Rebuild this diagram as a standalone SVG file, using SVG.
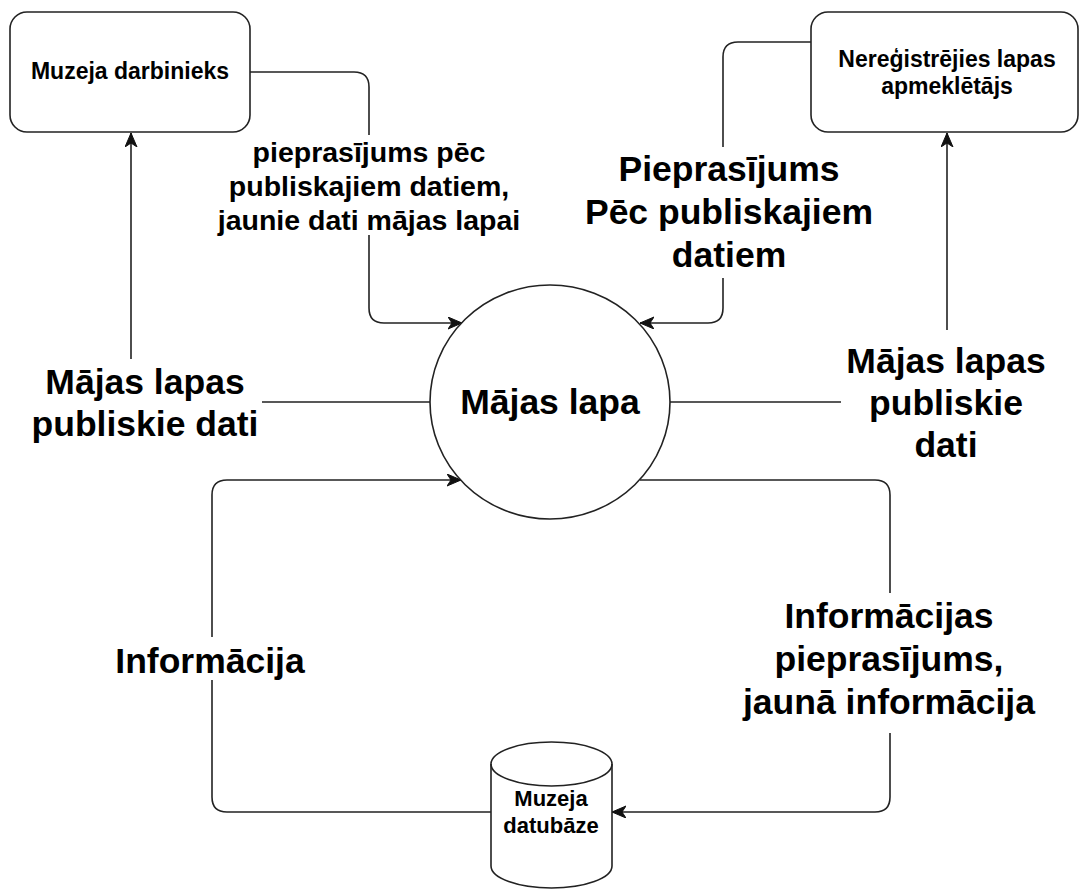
<svg xmlns="http://www.w3.org/2000/svg" width="1083" height="890" viewBox="0 0 1083 890">
<style>
.shape{fill:#fff;stroke:#222;stroke-width:1.6}
.edge{fill:none;stroke:#222;stroke-width:1.6}
.bg{fill:#fff;stroke:none}
text{font-family:"Liberation Sans",Arial,sans-serif;font-weight:bold;fill:#000;text-anchor:middle}
.small{font-size:23px}
.mid{font-size:28.5px}
.big{font-size:35.5px}
</style>
<defs>
<marker id="arrow" markerUnits="userSpaceOnUse" markerWidth="16" markerHeight="14" refX="14" refY="6" orient="auto" viewBox="0 0 16 14">
<path d="M0,0 L14,6 L0,12 L4,6 Z" fill="#111" stroke="#111" stroke-width="1"/>
</marker>
</defs>
<rect width="1083" height="890" fill="#fff"/>
<g id="connectors">
<g id="e1">
<path class="edge" d="M250,72 H354 Q369,72 369,87 V308 Q369,323 384,323 H462" marker-end="url(#arrow)"/>
<rect class="bg" x="212" y="135" width="312" height="100"/>
<text class="mid" x="369" y="162">pieprasījums pēc</text>
<text class="mid" x="369" y="196">publiskajiem datiem,</text>
<text class="mid" x="369" y="230">jaunie dati mājas lapai</text>
</g>
<g id="e2">
<path class="edge" d="M811,42 H738 Q723,42 723,57 V308 Q723,323 708,323 H640" marker-end="url(#arrow)"/>
<rect class="bg" x="582" y="147" width="296" height="131"/>
<text class="big" x="729" y="181">Pieprasījums</text>
<text class="big" x="729" y="224">Pēc publiskajiem</text>
<text class="big" x="729" y="267">datiem</text>
</g>
<g id="e3">
<path class="edge" d="M430,402 H146 Q131,402 131,387 V133" marker-end="url(#arrow)"/>
<rect class="bg" x="28" y="359" width="234" height="88"/>
<text class="big" x="145" y="394">Mājas lapas</text>
<text class="big" x="145" y="436">publiskie dati</text>
</g>
<g id="e4">
<path class="edge" d="M670,402 H932 Q947,402 947,387 V133" marker-end="url(#arrow)"/>
<rect class="bg" x="841" y="330" width="210" height="140"/>
<text class="big" x="946" y="373">Mājas lapas</text>
<text class="big" x="946" y="415">publiskie</text>
<text class="big" x="946" y="457">dati</text>
</g>
<g id="e5">
<path class="edge" d="M491,812 H227 Q212,812 212,797 V495 Q212,480 227,480 H461" marker-end="url(#arrow)"/>
<rect class="bg" x="110" y="637" width="204" height="43"/>
<text class="big" x="210" y="673">Informācija</text>
</g>
<g id="e6">
<path class="edge" d="M640,480 H875 Q890,480 890,495 V797 Q890,812 875,812 H612" marker-end="url(#arrow)"/>
<rect class="bg" x="740" y="593" width="300" height="140"/>
<text class="big" x="889" y="628">Informācijas</text>
<text class="big" x="889" y="671">pieprasījums,</text>
<text class="big" x="889" y="714">jaunā informācija</text>
</g>
</g>
<g id="node-muzeja-darbinieks">
<rect class="shape" x="10" y="12" width="240" height="120" rx="17" ry="17"/>
<text class="small" x="130" y="79">Muzeja darbinieks</text>
</g>
<g id="node-apmekletajs">
<rect class="shape" x="811" y="12" width="267" height="120" rx="17" ry="17"/>
<text class="small" x="947" y="67">Nereģistrējies lapas</text>
<text class="small" x="947" y="94">apmeklētājs</text>
</g>
<g id="node-majas-lapa">
<ellipse class="shape" cx="550" cy="402" rx="120" ry="117"/>
<text class="big" x="550" y="414">Mājas lapa</text>
</g>
<g id="node-datubaze">
<path class="shape" d="M491,764 A60.5,22 0 0 1 612,764 V866 A60.5,22 0 0 1 491,866 Z"/>
<path class="edge" d="M491,764 A60.5,22 0 0 0 612,764"/>
<text font-size="22" x="551" y="806">Muzeja</text>
<text font-size="22" x="551" y="833">datubāze</text>
</g>
</svg>
